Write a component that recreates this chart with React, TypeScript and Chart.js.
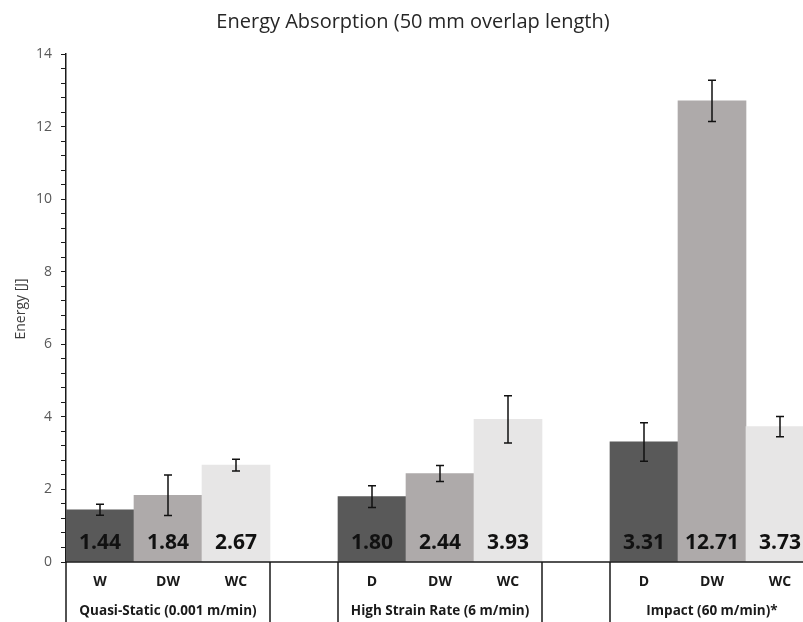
import React, { useEffect, useRef } from "react";
import { Chart, registerables } from "chart.js";

Chart.register(...registerables);

const categories = ["W", "DW", "WC", "", "D", "DW", "WC", "", "D", "DW", "WC"];
const groupLabels = ["Quasi-Static (0.001 m/min)", "High Strain Rate (6 m/min)", "Impact (60 m/min)*"];
const energyValues: (number | null)[] = [1.44, 1.84, 2.67, null, 1.8, 2.44, 3.93, null, 3.31, 12.71, 3.73];
const energyErrors: (number | null)[] = [0.15, 0.56, 0.16, null, 0.3, 0.22, 0.65, null, 0.53, 0.57, 0.28];
const valueLabels = ["1.44", "1.84", "2.67", "", "1.80", "2.44", "3.93", "", "3.31", "12.71", "3.73"];
const chartTitle = "Energy Absorption (50 mm overlap length)";
const yTitle = "Energy [J]";

const shadeColors = ["#595959", "#AEAAAA", "#E7E6E6"];

const FONT = '"Open Sans", "Noto Sans", sans-serif';

export default function App() {
  const ref = useRef<HTMLCanvasElement | null>(null);

  useEffect(() => {
    const canvas = ref.current;
    if (!canvas) return;

    const colors: string[] = [];
    let k = 0;
    categories.forEach((c) => {
      if (c === "") {
        colors.push("rgba(0,0,0,0)");
        k = 0;
      } else {
        colors.push(shadeColors[k % 3]);
        k++;
      }
    });

    const custom = {
      id: "custom",
      afterDatasetsDraw(chart: any) {
        const { ctx, scales } = chart;
        const x = scales.x;
        const y = scales.y;
        const meta = chart.getDatasetMeta(0);
        ctx.save();
        ctx.strokeStyle = "#111";
        ctx.lineWidth = 1.5;
        energyValues.forEach((v, i) => {
          const e = energyErrors[i];
          if (v == null || e == null) return;
          const cx = meta.data[i].x;
          const top = y.getPixelForValue(v + e);
          const bot = y.getPixelForValue(v - e);
          ctx.beginPath();
          ctx.moveTo(cx, top);
          ctx.lineTo(cx, bot);
          ctx.moveTo(cx - 4, top);
          ctx.lineTo(cx + 4, top);
          ctx.moveTo(cx - 4, bot);
          ctx.lineTo(cx + 4, bot);
          ctx.stroke();
        });
        ctx.fillStyle = "#111";
        ctx.font = `bold 21px ${FONT}`;
        ctx.textAlign = "center";
        ctx.textBaseline = "middle";
        const y0 = y.getPixelForValue(0);
        valueLabels.forEach((t, i) => {
          if (!t) return;
          ctx.fillText(t, x.getPixelForValue(i), y0 - 19);
        });
        ctx.restore();
      },
      afterDraw(chart: any) {
        const { ctx, scales, chartArea } = chart;
        const x = scales.x;
        const y = scales.y;
        const y0 = y.getPixelForValue(0);
        const slot = x.getPixelForValue(1) - x.getPixelForValue(0);
        const bottom = chart.height;
        ctx.save();
        ctx.strokeStyle = "#1a1a1a";
        ctx.lineWidth = 1.5;
        ctx.beginPath();
        ctx.moveTo(chartArea.left, y0);
        ctx.lineTo(chartArea.right, y0);
        const seps: number[] = [chartArea.left];
        categories.forEach((c, i) => {
          if (c === "") {
            seps.push(x.getPixelForValue(i) - slot / 2);
            seps.push(x.getPixelForValue(i) + slot / 2);
          }
        });
        seps.push(chartArea.right);
        seps.forEach((px) => {
          ctx.moveTo(px, y0);
          ctx.lineTo(px, bottom);
        });
        ctx.stroke();

        ctx.fillStyle = "#1a1a1a";
        ctx.textAlign = "center";
        ctx.textBaseline = "middle";
        ctx.font = `bold 14px ${FONT}`;
        categories.forEach((c, i) => {
          if (!c) return;
          ctx.fillText(c, x.getPixelForValue(i), y0 + 20);
        });
        ctx.font = `bold 13.5px ${FONT}`;
        let start = 0;
        let g = 0;
        for (let i = 0; i <= categories.length; i++) {
          if (i === categories.length || categories[i] === "") {
            const center = (x.getPixelForValue(start) + x.getPixelForValue(i - 1)) / 2;
            if (groupLabels[g]) ctx.fillText(groupLabels[g], center, y0 + 49);
            g++;
            start = i + 1;
          }
        }

        ctx.fillStyle = "#262626";
        ctx.font = `20px ${FONT}`;
        ctx.textBaseline = "alphabetic";
        ctx.fillText(chartTitle, 413, 28);

        ctx.save();
        ctx.translate(21, 309);
        ctx.rotate(-Math.PI / 2);
        ctx.textBaseline = "middle";
        ctx.font = `14px ${FONT}`;
        ctx.fillStyle = "#404040";
        ctx.fillText(yTitle, 0, 0);
        ctx.restore();
        ctx.restore();
      },
    };

    const chart = new Chart(canvas, {
      type: "bar",
      data: {
        labels: categories,
        datasets: [
          {
            data: energyValues as any,
            backgroundColor: colors,
            borderWidth: 0,
            barPercentage: 1,
            categoryPercentage: 1,
          },
        ],
      },
      options: {
        responsive: false,
        animation: false,
        devicePixelRatio: 1,
        layout: { padding: { top: 54, left: 0, right: 0, bottom: 0 } },
        plugins: {
          legend: { display: false },
          tooltip: { enabled: false },
          title: { display: false },
        },
        scales: {
          x: {
            type: "category",
            ticks: { display: false },
            grid: { display: false },
            border: { display: false },
            afterFit(scale: any) {
              scale.height = 60;
            },
          },
          y: {
            min: 0,
            max: 14,
            ticks: {
              stepSize: 0.4,
              autoSkip: false,
              maxTicksLimit: 100,
              padding: 9,
              color: "#595959",
              font: { family: FONT, size: 14 },
              callback: (v: any) => {
                const n = Number(v);
                return Math.abs(n / 2 - Math.round(n / 2)) < 1e-6 ? String(Math.round(n)) : "";
              },
            },
            grid: {
              drawOnChartArea: false,
              drawTicks: true,
              tickLength: 5,
              color: "#1a1a1a",
              lineWidth: 1,
            },
            border: { display: true, color: "#1a1a1a", width: 1.5 },
            afterFit(scale: any) {
              scale.width = 66;
            },
          },
        },
      },
      plugins: [custom],
    });
    return () => chart.destroy();
  }, []);

  return (
    <div style={{ position: "fixed", left: 0, top: 0, width: 803, height: 622, overflow: "hidden", background: "#fff" }}>
      <canvas ref={ref} width={814} height={622} style={{ width: 814, height: 622, display: "block" }} />
    </div>
  );
}
